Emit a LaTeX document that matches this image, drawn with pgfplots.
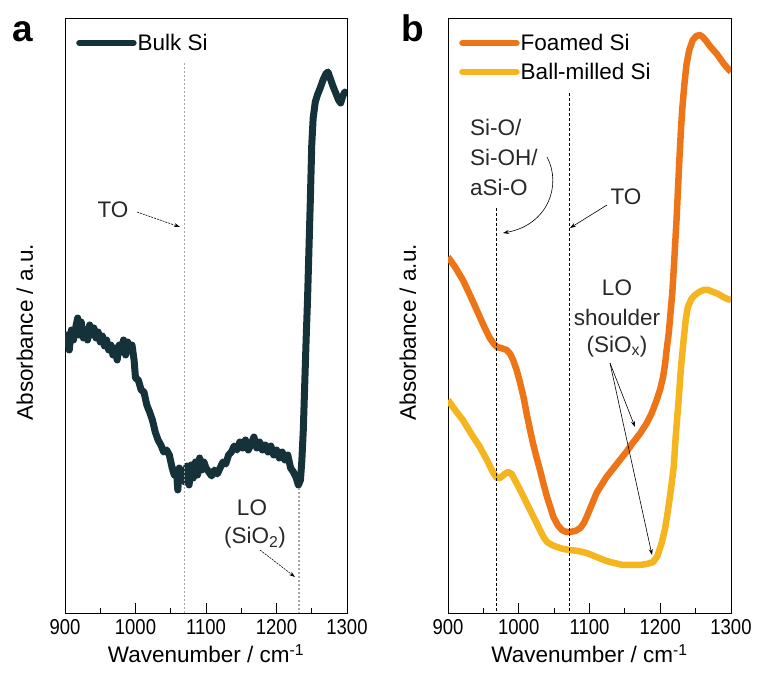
\documentclass[border=0pt]{standalone}
\usepackage{fontspec}
\setmainfont{Liberation Sans}
\newfontfamily\narrowfont[FakeStretch=0.86]{Liberation Sans}
\usepackage{pgfplots}
\pgfplotsset{compat=1.18}
\usetikzlibrary{arrows.meta}

\definecolor{bulk}{RGB}{21,50,58}
\definecolor{foamed}{RGB}{238,116,24}
\definecolor{milled}{RGB}{245,181,30}
\definecolor{note}{RGB}{40,40,40}

\newcommand{\lab}{\fontsize{22.5bp}{26bp}\selectfont}
\newcommand{\ticks}{\narrowfont\fontsize{21.5bp}{21.5bp}\selectfont}

\pgfplotsset{
  panel/.style={
    scale only axis, height=595bp,
    xmin=900, xmax=1300, ymin=0, ymax=595,
    xtick={900,1000,...,1300}, minor x tick num=1,
    ytick=\empty,
    tick align=inside, xtick pos=bottom,
    major tick length=10bp, minor tick length=5bp,
    axis line style={line width=0.8bp},
    every tick/.style={line width=0.8bp, black},
    xticklabel style={font=\ticks, yshift=-3bp},
    /pgf/number format/assume math mode=true,
    /pgf/number format/set thousands separator={},
    xlabel={Wavenumber / cm\textsuperscript{-1}},
    ylabel={Absorbance / a.u.},
    label style={font=\lab},
    xlabel style={at={(axis description cs:0.5,-0.084)}, anchor=base},
    ylabel style={at={(axis description cs:-0.142,0.472)}, anchor=center},
    legend style={draw=none, fill=none, anchor=north west, font=\lab,
      inner sep=0pt, row sep=9bp,
      nodes={inner sep=1bp}},
    legend cell align=left,
    legend image code/.code={\draw[##1, line width=6.5bp, line cap=round] (3bp,0bp) -- (57bp,0bp);},
  },
  curve/.style={line width=6.5bp, line join=round},
}

\begin{document}
\begin{tikzpicture}
\useasboundingbox (0,0) rectangle (757bp,691bp);

% ---- panel a
\begin{axis}[panel, width=282bp, at={(65bp,78bp)}, anchor=south west,
  legend style={at={(0.039,0.975)}}]
\addplot[curve, bulk, line width=7bp] coordinates {
(900,268) (903,278) (906,263) (909,283) (912,273) (915,285) (918,295) (920,278)
(923,291) (926,275) (929,283) (932,273) (935,288) (938,278) (941,285) (944,275)
(947,281) (950,271) (953,277) (956,267) (959,273) (962,263) (965,268) (968,258)
(971,265) (974,253) (977,268) (980,261) (983,273) (986,258) (989,271) (992,263)
(995,268) (998,253) (1000,235) (1004,233) (1008,223) (1012,221) (1016,208) (1020,201)
(1024,193) (1028,181) (1032,173) (1036,168) (1040,161) (1044,163) (1048,158) (1052,145)
(1055,138) (1058,143) (1060,123) (1062,145) (1065,135) (1068,143) (1070,131) (1073,147)
(1076,128) (1079,148) (1082,135) (1085,151) (1088,138) (1091,155) (1094,143) (1097,151)
(1100,145) (1104,141) (1108,137) (1112,143) (1116,139) (1120,145) (1124,151) (1128,149)
(1132,158) (1136,161) (1140,167) (1144,163) (1148,171) (1152,165) (1156,173) (1160,163)
(1164,169) (1168,176) (1172,165) (1176,171) (1180,163) (1184,168) (1188,161) (1192,167)
(1196,158) (1200,163) (1204,155) (1208,161) (1212,153) (1216,158) (1220,145) (1224,141)
(1228,135) (1231,128) (1234,133) (1236,153) (1238,183) (1240,228) (1242,273) (1244,313)
(1246,363) (1248,413) (1250,468) (1252,495) (1255,511) (1258,518) (1262,525) (1266,533)
(1270,539) (1273,541) (1276,535) (1280,527) (1284,520) (1288,513) (1291,510) (1294,517)
(1297,521) (1300,519)
};
\addlegendentry{Bulk Si}
\draw[gray!70, line width=1.2bp, dash pattern=on 2bp off 2bp] (axis cs:1070,550) -- (axis cs:1070,0);
\draw[gray!70, line width=1.2bp, dash pattern=on 2bp off 2bp] (axis cs:1232,125) -- (axis cs:1232,0);
\end{axis}

% ---- panel b
\begin{axis}[panel, width=283bp, at={(448bp,78bp)}, anchor=south west,
  legend style={at={(0.039,0.975)}}]
\addplot[curve, foamed] coordinates {
(900,356) (910,346) (921,333) (933,315) (945,296) (952,285) (959,275) (965,269)
(969,266) (975,265) (983,263) (988,259) (992,253) (997,243) (1002,230) (1007,215)
(1011,200) (1016,183) (1020,170) (1025,156) (1030,143) (1035,129) (1040,116) (1045,105)
(1049,96) (1055,88) (1061,83) (1067,81) (1072,81) (1080,82) (1087,85) (1092,90)
(1096,96) (1103,108) (1110,120) (1117,128) (1124,136) (1133,144) (1143,153) (1152,161)
(1161,170) (1171,179) (1181,190) (1188,200) (1195,213) (1200,224) (1204,236) (1207,250)
(1209,263) (1212,280) (1214,296) (1217,320) (1219,343) (1221,368) (1223,393) (1225,423)
(1227,453) (1229,480) (1231,503) (1234,528) (1237,548) (1241,563) (1246,573) (1251,577)
(1256,578) (1260,576) (1265,572) (1270,567) (1275,563) (1280,559) (1285,554) (1290,549)
(1295,545) (1300,541)
};
\addlegendentry{Foamed Si}
\addplot[curve, milled] coordinates {
(900,213) (910,203) (921,193) (933,179) (945,166) (955,153) (964,140) (969,135)
(973,135) (977,137) (980,139) (985,141) (990,139) (996,131) (1002,123) (1009,113)
(1016,103) (1023,93) (1030,83) (1035,76) (1040,71) (1047,68) (1054,66) (1063,64)
(1072,63) (1084,62) (1096,60) (1110,56) (1124,52) (1135,50) (1147,48) (1159,48)
(1171,48) (1181,49) (1190,51) (1196,57) (1202,70) (1207,85) (1211,103) (1215,123)
(1219,146) (1222,178) (1226,213) (1229,243) (1233,273) (1236,293) (1239,306) (1244,314)
(1249,318) (1255,321) (1261,323) (1268,323) (1275,321) (1282,319) (1289,316) (1295,314)
(1300,313)
};
\addlegendentry{Ball-milled Si}
\draw[black, line width=0.8bp, dash pattern=on 3bp off 2bp] (axis cs:969,405) -- (axis cs:969,0);
\draw[black, line width=0.8bp, dash pattern=on 3bp off 2bp] (axis cs:1071,520) -- (axis cs:1071,0);
\end{axis}

% ---- panel letters and notes (picture coordinates in bp)
\begin{scope}[x=1bp, y=1bp]
\node[anchor=base, font=\fontsize{37bp}{37bp}\selectfont\bfseries] at (23,649) {a};
\node[anchor=base, font=\fontsize{37bp}{37bp}\selectfont\bfseries] at (413,649) {b};

\begin{scope}[every node/.style={font=\lab, text=note, inner sep=0pt}]
% panel a
\node at (113,481) {TO};
\draw[-{Stealth[length=6bp,width=4bp]}, line width=0.6bp, dash pattern=on 2bp off 1bp] (137,479) -- (180,464);
\node at (252,183) {LO};
\node at (255,153) {(SiO\textsubscript{2})};
\draw[-{Stealth[length=6bp,width=4bp]}, line width=0.6bp, dash pattern=on 2bp off 1bp] (260,141) -- (295,114);
% panel b
\node[anchor=west] at (470,564) {Si-O/};
\node[anchor=west] at (470,534) {Si-OH/};
\node[anchor=west] at (470,504) {aSi-O};
\draw[-{Stealth[length=6bp,width=4bp]}, line width=0.6bp] (547,534) .. controls (562,506) and (548,466) .. (503,458);
\node at (626,494) {TO};
\draw[-{Stealth[length=6bp,width=4bp]}, line width=0.6bp] (607,486) -- (570,463);
\node at (617,403) {LO};
\node at (617,374) {shoulder};
\node at (617,344) {(SiO\textsubscript{x})};
\draw[-{Stealth[length=6bp,width=4bp]}, line width=0.6bp] (610,328) -- (635,264);
\draw[-{Stealth[length=6bp,width=4bp]}, line width=0.6bp] (610,328) -- (652,136);
\end{scope}
\end{scope}
\end{tikzpicture}
\end{document}
